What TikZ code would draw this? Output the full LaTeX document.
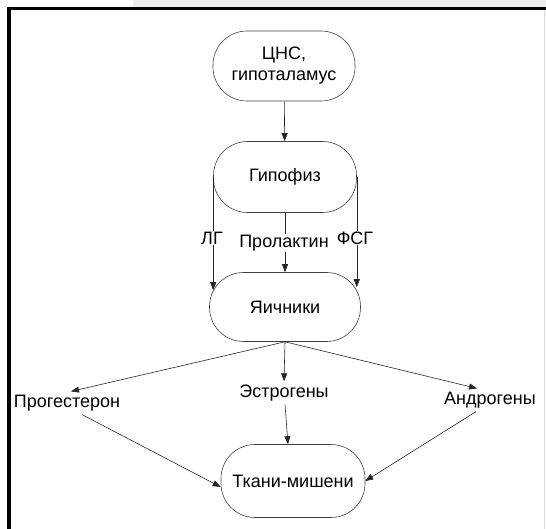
\documentclass[tikz,border=0pt]{standalone}
\usepackage{fontspec}
\setmainfont{Liberation Sans}
\usetikzlibrary{arrows.meta}
\definecolor{bandgray}{RGB}{238,238,238}

\begin{document}
\begin{tikzpicture}[x=1pt, y=1pt, font=\fontsize{18}{21}\selectfont,
  main/.style = {draw, black!75, text=black, line width=0.6pt, rounded corners=34pt, align=center},
  lbl/.style = {fill=white, inner sep=1pt},
  arr/.style = {-{Triangle[length=8pt,width=6pt]}, black!85, line width=0.6pt}]
\useasboundingbox (0,0) rectangle (546,529);
\fill[bandgray] (133,522) rectangle (546,529);
\draw[line width=3.5pt] (9,0) -- (9,520.5) -- (546,520.5);
\draw[black!15, line width=1pt] (544,0) -- (544,519);
\node[main, minimum width=142pt, minimum height=70pt] (cns) at (284,463) {ЦНС,\\гипоталамус};
\node[main, minimum width=143pt, minimum height=71pt] (gip) at (285,352) {Гипофиз};
\node[main, minimum width=151pt, minimum height=69pt] (yai) at (285,222) {Яичники};
\node[main, minimum width=144pt, minimum height=73pt] (tk) at (293,48) {Ткани-мишени};
\node (prog) at (67,126) {Прогестерон};
\node (estr) at (284,136) {Эстрогены};
\node (andr) at (490,129) {Андрогены};
\draw[arr] (cns) -- (gip);
\draw[arr] (gip.west) -- ([yshift=-18pt]gip.west |- yai.north);
\draw[arr] (gip.east) -- ([yshift=-15pt]gip.east |- yai.north);
\draw[arr] (gip) -- (yai);
\node[lbl] (lg) at (212,291) {ЛГ};
\node[lbl] (prl) at (284,286) {Пролактин};
\node[lbl] (fsg) at (355,291) {ФСГ};
\draw[arr] (yai.south) -- ([xshift=4pt]prog.north);
\draw[arr] (yai.south) -- (estr.north);
\draw[arr] (yai.south) -- ([xshift=-13pt]andr.north);
\draw[arr] ([xshift=15pt]prog.south) -- ([yshift=-6pt]tk.west);
\draw[arr] ([xshift=1pt]estr.south) -- ([xshift=-5pt]tk.north);
\draw[arr] ([xshift=-14pt]andr.south) -- (tk.east);
\end{tikzpicture}
\end{document}
